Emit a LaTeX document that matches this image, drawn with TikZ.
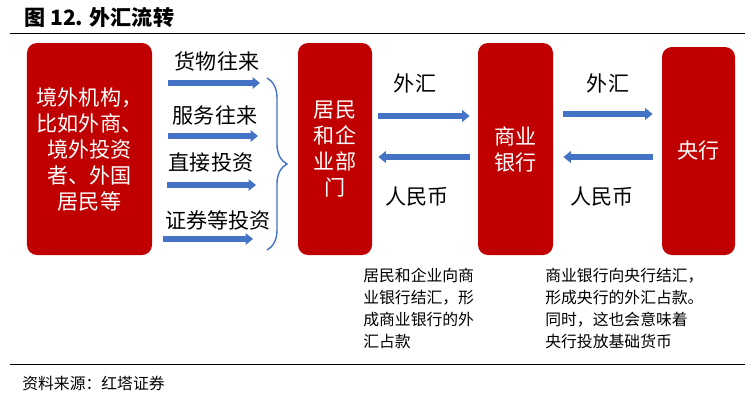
\documentclass[tikz,border=0pt]{standalone}
\usepackage{fontspec}
\setmainfont{Noto Sans CJK SC}
\usetikzlibrary{arrows.meta,decorations.pathreplacing}

\definecolor{boxred}{RGB}{192,0,0}
\definecolor{flowblue}{RGB}{68,114,196}

\tikzset{
  party/.style={fill=boxred, rounded corners=2mm, text=white, inner sep=0pt,
    align=center, font=\fontsize{12}{14.8}\selectfont},
  flow/.style={draw=flowblue, line width=1.2mm,
    -{Triangle[width=2.3mm,length=1.5mm]}},
  flowtext/.style={font=\fontsize{12}{14}\selectfont, inner sep=0pt},
  note/.style={font=\fontsize{9}{12.5}\selectfont, align=left, inner sep=0pt, anchor=north west}
}

\begin{document}
\begin{tikzpicture}[x=0.2mm, y=-0.2mm]

  \useasboundingbox (0,0) rectangle (754,400);

  % --- Title ---
  \node[font=\fontsize{12}{14}\selectfont\bfseries, anchor=west, inner sep=0pt] (title) at (24,18) {图 12. 外汇流转};
  \draw[thin] (10,33) -- (745,33);

  % --- Boxes ---
  \node[party, minimum width=25mm, minimum height=42.4mm] (abroad) at (89.5,149)
    {境外机构，\\比如外商、\\境外投资\\者、外国\\居民等};
  \node[party, minimum width=14.8mm, minimum height=42.4mm] (resident) at (335,149)
    {居民\\和企\\业部\\门};
  \node[party, minimum width=15mm, minimum height=42.4mm] (bank) at (515.5,149)
    {商业\\银行};
  \node[party, minimum width=14.6mm, minimum height=41.6mm] (central) at (698.5,151)
    {央行};

  % --- Abroad -> residents ---
  \coordinate (btop) at (267,78);
  \coordinate (bbot) at (267,250);
  \draw[flowblue, line width=0.8pt, decorate, decoration={brace, amplitude=4mm}] (btop) -- (bbot);

  \draw[flow, shorten <=3.2mm, shorten >=1.4mm] ([yshift=13.2mm]abroad.east) -- ([yshift=13.2mm]abroad.east -| btop);
  \draw[flow, shorten <=3.2mm, shorten >=1.8mm] ([yshift=2.6mm]abroad.east) -- ([yshift=2.6mm]abroad.east -| btop);
  \draw[flow, shorten <=3mm, shorten >=2.2mm] ([yshift=-7.2mm]abroad.east) -- ([yshift=-7.2mm]abroad.east -| btop);
  \draw[flow, shorten <=2.2mm, shorten >=2.8mm] ([yshift=-18mm]abroad.east) -- ([yshift=-18mm]abroad.east -| btop);

  \node[flowtext] (goods) at (217,61) {货物往来};
  \node[flowtext] (service) at (215,115) {服务往来};
  \node[flowtext] (direct) at (211,162) {直接投资};
  \node[flowtext] (secur) at (218,220) {证券等投资};

  % --- Residents <-> commercial banks ---
  \draw[flow, shorten <=1.2mm, shorten >=1.6mm] ([yshift=6.6mm]resident.east) -- ([yshift=6.6mm]resident.east -| bank.west);
  \draw[flow, shorten <=1.6mm, shorten >=1.2mm] ([yshift=-1.6mm]resident.east -| bank.west) -- ([yshift=-1.6mm]resident.east);
  \node[flowtext] (fx1) at (415,83) {外汇};
  \node[flowtext] (rmb1) at (417,197) {人民币};

  % --- Commercial banks <-> central bank ---
  \draw[flow, shorten <=2mm, shorten >=1.8mm] ([yshift=7mm]bank.east) -- ([yshift=7mm]bank.east -| central.west);
  \draw[flow, shorten <=1.8mm, shorten >=2mm] ([yshift=-1.6mm]bank.east -| central.west) -- ([yshift=-1.6mm]bank.east);
  \node[flowtext] (fx2) at (608,83) {外汇};
  \node[flowtext] (rmb2) at (602,197) {人民币};

  % --- Notes ---
  \node[note] (note1) at (363,268) {居民和企业向商\\业银行结汇，形\\成商业银行的外\\汇占款};
  \node[note] (note2) at (545,268) {商业银行向央行结汇，\\形成央行的外汇占款。\\同时，这也会意味着\\央行投放基础货币};

  % --- Source ---
  \draw[thin] (10,364) -- (745,364);
  \node[font=\fontsize{9}{11}\selectfont, anchor=west, inner sep=0pt] (source) at (22,383) {资料来源：红塔证券};

\end{tikzpicture}
\end{document}
